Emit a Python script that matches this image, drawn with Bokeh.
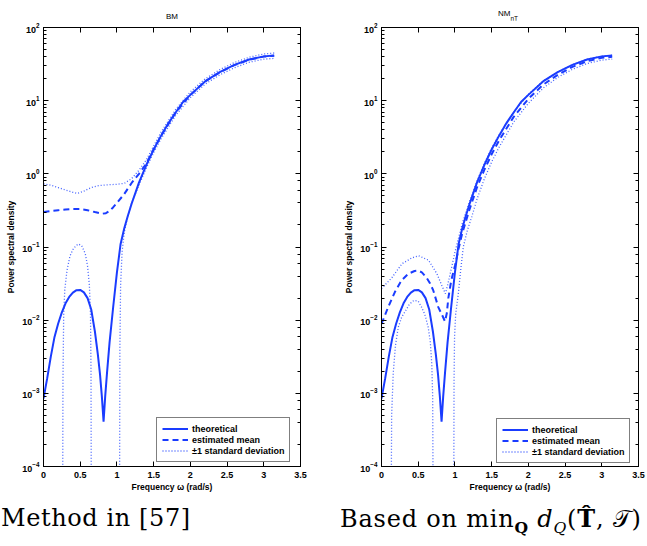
from bokeh.plotting import figure
from bokeh.models import (Range1d, LinearAxis, LogAxis, FixedTicker, NumeralTickFormatter,
                          CustomJSTickFormatter, Legend, LegendItem, Div)
from bokeh.layouts import column, row
from bokeh.embed import file_html
from bokeh.resources import INLINE

nan = float("nan")

# ---------------- data ----------------
x_ticks = [0, 0.5, 1, 1.5, 2, 2.5, 3, 3.5]

theory_w = [0.0, 0.05, 0.1, 0.15, 0.2, 0.25, 0.3, 0.35, 0.4, 0.45, 0.5, 0.55, 0.6, 0.65, 0.7,
            0.74, 0.77, 0.795, 0.818, 0.84, 0.865, 0.9, 0.95, 1.0, 1.05, 1.1, 1.15, 1.2, 1.3,
            1.4, 1.5, 1.6, 1.7, 1.8, 1.9, 2.0, 2.2, 2.4, 2.6, 2.8, 3.0, 3.1416]
theory_psd = [8.5e-4, 1.6e-3, 3.2e-3, 5.9e-3, 9.0e-3, 0.0128, 0.0170, 0.0208, 0.0238, 0.0257,
              0.0259, 0.0240, 0.0200, 0.0140, 7.0e-3, 3.4e-3, 1.8e-3, 9.0e-4, 4.1e-4, 9.0e-4,
              1.9e-3, 5.0e-3, 0.0155, 0.045, 0.11, 0.18, 0.27, 0.39, 0.76, 1.32, 2.15, 3.3,
              4.9, 6.9, 9.6, 12.0, 18.3, 24.5, 30.8, 36.5, 40.3, 41.5]

# BM panel
bm_mean_w = [0.0, 0.1, 0.2, 0.3, 0.4, 0.5, 0.6, 0.7, 0.8, 0.85, 0.9, 0.95, 1.0, 1.1, 1.2, 1.3,
             1.4, 1.5, 1.6, 1.8, 2.0, 2.2, 2.4, 2.6, 2.8, 3.0, 3.1416]
bm_mean = [0.30, 0.31, 0.318, 0.325, 0.33, 0.33, 0.318, 0.30, 0.285, 0.29, 0.31, 0.35, 0.40,
           0.53, 0.75, 1.0, 1.38, 2.15, 3.3, 6.9, 12.0, 18.3, 24.4, 30.6, 36.2, 40.0, 41.2]
bm_upper_w = [0.0, 0.1, 0.2, 0.3, 0.4, 0.46, 0.55, 0.65, 0.75, 0.9, 1.0, 1.1, 1.2, 1.3, 1.4,
              1.5, 1.6, 1.8, 2.0, 2.2, 2.4, 2.6, 2.8, 3.0, 3.1416]
bm_upper = [0.73, 0.70, 0.65, 0.60, 0.56, 0.54, 0.58, 0.65, 0.69, 0.71, 0.72, 0.74, 0.86, 1.12,
            1.55, 2.4, 3.7, 7.6, 13.2, 19.8, 26.5, 33.2, 39.2, 43.5, 44.8]
bm_lower_w = [0.26, 0.265, 0.275, 0.29, 0.32, 0.36, 0.4, 0.44, 0.477, 0.52, 0.569, 0.6, 0.625,
              0.64, 0.647, 0.652, 0.84, 1.035, 1.04, 1.05, 1.07, 1.1, 1.15, 1.2, 1.3, 1.4,
              1.5, 1.6, 1.8, 2.0, 2.2, 2.4, 2.6, 2.8, 3.0, 3.1416]
bm_lower = [1e-5, 1.5e-3, 0.012, 0.026, 0.048, 0.075, 0.092, 0.104, 0.110, 0.104, 0.081, 0.055,
            0.030, 0.012, 2e-3, 1e-5, nan, 1e-5, 4e-3, 0.03, 0.085, 0.16, 0.27, 0.40, 0.70,
            1.2, 1.95, 3.0, 6.3, 11.0, 16.8, 22.5, 28.2, 33.5, 36.9, 37.8]

# NM_nT panel
nm_mean_w = [0.0, 0.091, 0.182, 0.273, 0.364, 0.45, 0.5, 0.55, 0.614, 0.66, 0.705, 0.773, 0.83,
             0.865, 0.89, 0.91, 0.95, 1.0, 1.05, 1.1, 1.2, 1.3, 1.4, 1.5, 1.6, 1.8, 2.0, 2.2,
             2.4, 2.6, 2.8, 3.0, 3.1416]
nm_mean = [8.9e-3, 0.0151, 0.0242, 0.035, 0.043, 0.047, 0.0475, 0.045, 0.038, 0.032, 0.0255,
           0.0151, 0.0115, 9.6e-3, 0.0125, 0.020, 0.035, 0.055, 0.095, 0.155, 0.33, 0.65,
           1.13, 1.85, 2.85, 6.0, 10.6, 16.5, 22.5, 29.0, 34.6, 38.5, 39.8]
nm_upper_w = [0.0, 0.141, 0.278, 0.414, 0.505, 0.641, 0.755, 0.82, 0.87, 0.9, 0.95, 1.0, 1.1,
              1.2, 1.3, 1.4, 1.5, 1.6, 1.8, 2.0, 2.2, 2.4, 2.6, 2.8, 3.0, 3.1416]
nm_upper = [0.027, 0.038, 0.059, 0.071, 0.076, 0.066, 0.043, 0.030, 0.023, 0.030, 0.050, 0.085,
            0.21, 0.42, 0.80, 1.38, 2.25, 3.4, 7.0, 12.2, 18.5, 24.7, 31.0, 36.8, 40.5, 41.8]
nm_lower_w = [0.13, 0.138, 0.16, 0.19, 0.228, 0.275, 0.319, 0.38, 0.44, 0.5, 0.545, 0.59, 0.636,
              0.665, 0.685, 0.697, 0.705, 0.85, 0.983, 0.988, 0.995, 1.01, 1.046, 1.08, 1.114,
              1.17, 1.23, 1.3, 1.4, 1.5, 1.6, 1.8, 2.0, 2.2, 2.4, 2.6, 2.8, 3.0, 3.1416]
nm_lower = [1e-5, 5e-4, 1.9e-3, 4.5e-3, 8e-3, 0.011, 0.013, 0.0165, 0.0186, 0.0182, 0.0151,
            0.012, 8e-3, 5e-3, 2.5e-3, 9e-4, 1e-5, nan, 1e-5, 1.5e-3, 6e-3, 0.012, 0.023, 0.05,
            0.10, 0.17, 0.26, 0.45, 0.85, 1.45, 2.3, 5.1, 9.2, 14.8, 20.8, 26.8, 32.2, 35.8, 37.0]

legend_labels = ["theoretical", "estimated mean", "\u00b11 standard deviation"]

# ---------------- styling ----------------
BLUE = "#1a3cff"
DOT = "#4664ff"
FONT = "Liberation Sans"


def style_axis(ax, minor=True):
    ax.axis_line_color = "black"
    ax.axis_line_width = 1
    ax.major_tick_line_color = "black"
    ax.minor_tick_line_color = "black"
    ax.major_tick_in = 5
    ax.major_tick_out = 0
    ax.minor_tick_in = 3 if minor else 0
    ax.minor_tick_out = 0
    ax.major_label_text_font = FONT
    ax.major_label_text_font_style = "bold"
    ax.major_label_text_font_size = "9px"
    ax.major_label_text_color = "black"
    ax.axis_label_text_font = FONT
    ax.axis_label_text_font_style = "bold"
    ax.axis_label_text_font_size = "8.5px"
    ax.axis_label_text_color = "black"


def build(width, b_left, b_right, mean_w, mean_v, up_w, up_v, lo_w, lo_v, legend_loc):
    p = figure(width=width, height=480, x_range=Range1d(0, 3.5), y_range=Range1d(1e-4, 1e2),
               y_axis_type="log", output_backend="svg", toolbar_location=None,
               min_border_left=b_left, min_border_right=b_right,
               min_border_top=7, min_border_bottom=34)
    p.xgrid.visible = False
    p.ygrid.visible = False
    p.outline_line_color = "black"
    p.outline_line_width = 1
    p.background_fill_color = "white"
    p.border_fill_color = "white"

    xa = p.xaxis[0]
    xa.ticker = FixedTicker(ticks=x_ticks)
    xa.formatter = NumeralTickFormatter(format="0.[0]")
    style_axis(xa, minor=False)
    xa.major_label_standoff = 5
    xa.axis_label = "Frequency \u03c9 (rad/s)"
    xa.axis_label_standoff = 1

    ya = p.yaxis[0]
    style_axis(ya)
    ya.major_label_standoff = 4
    ya.axis_label = "Power spectral density"
    ya.axis_label_standoff = 3

    top = LinearAxis(ticker=FixedTicker(ticks=x_ticks),
                     formatter=CustomJSTickFormatter(code="return ''"))
    style_axis(top, minor=False)
    top.major_label_standoff = 0
    p.add_layout(top, "above")

    rgt = LogAxis(formatter=CustomJSTickFormatter(code="return ''"))
    style_axis(rgt)
    rgt.major_label_standoff = 0
    p.add_layout(rgt, "right")

    r_up = p.line(up_w, up_v, line_color=DOT, line_width=1.3, line_dash="1 2")
    p.line(lo_w, lo_v, line_color=DOT, line_width=1.3, line_dash="1 2")
    r_mean = p.line(mean_w, mean_v, line_color=BLUE, line_width=2, line_dash="6 4")
    r_th = p.line(theory_w, theory_psd, line_color=BLUE, line_width=2)

    legend = Legend(items=[LegendItem(label=legend_labels[0], renderers=[r_th]),
                           LegendItem(label=legend_labels[1], renderers=[r_mean]),
                           LegendItem(label=legend_labels[2], renderers=[r_up])],
                    location=legend_loc)
    legend.label_text_font = FONT
    legend.label_text_font_style = "bold"
    legend.label_text_font_size = "9px"
    legend.label_text_color = "black"
    legend.border_line_color = "black"
    legend.border_line_width = 1
    legend.background_fill_color = "white"
    legend.background_fill_alpha = 1
    legend.padding = 5
    legend.spacing = 0
    legend.margin = 0
    legend.label_height = 11
    legend.glyph_height = 11
    legend.glyph_width = 26
    legend.label_standoff = 4
    p.add_layout(legend)
    return p


p1 = build(339, 43, 39, bm_mean_w, bm_mean, bm_upper_w, bm_upper, bm_lower_w, bm_lower, (113, 4))
p2 = build(308, 42, 9, nm_mean_w, nm_mean, nm_upper_w, nm_upper, nm_lower_w, nm_lower, (115, 3))

titles = Div(
    text='<div style="position:relative;width:647px;height:20px;overflow:visible">'
         '<span style="position:absolute;left:166px;top:12px;white-space:nowrap">BM</span>'
         '<span style="position:absolute;left:498px;top:9px;white-space:nowrap">NM'
         '<span style="position:relative;top:5px;font-size:6.5px">nT</span></span></div>',
    width=647, height=20, margin=0,
    styles={"font-family": FONT, "font-size": "8px", "color": "black", "line-height": "9px"})

captions = Div(
    text='<div style="position:relative;width:647px;height:46px;overflow:visible">'
         '<span style="position:absolute;left:1px;top:5px;white-space:nowrap;letter-spacing:0.6px">'
         'Method in [57]</span>'
         '<span style="position:absolute;left:340px;top:5px;white-space:nowrap;letter-spacing:0.8px">'
         'Based on min<sub style="font-size:65%;line-height:0"><b>Q</b></sub> '
         '<i>d</i><sub style="font-size:65%;line-height:0"><i>Q</i></sub>'
         '(<b>T\u0302</b>, \U0001D4AF)</span></div>',
    width=647, height=46, margin=0,
    styles={"font-family": "DejaVu Serif", "font-size": "24px", "color": "black",
            "line-height": "27px"})

layout = column(titles, row(p1, p2), captions)
open("out.html", "w").write(file_html(layout, INLINE))
